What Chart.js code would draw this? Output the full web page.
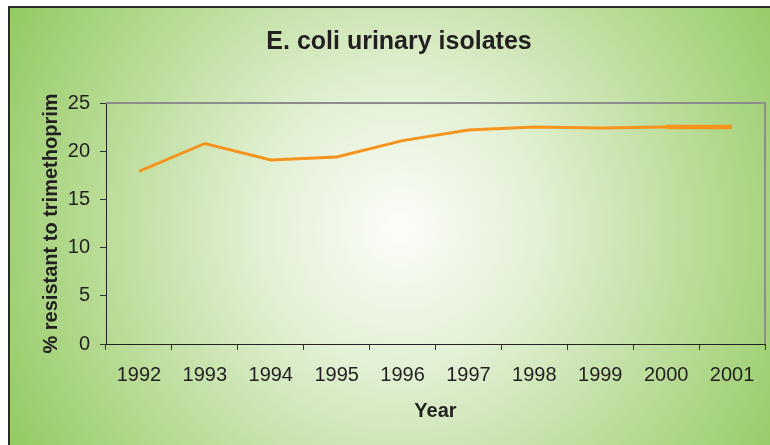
<!DOCTYPE html>
<html lang="en">
<head>
  <meta charset="UTF-8">
  <title>E. coli urinary isolates</title>
  <script src="https://cdn.jsdelivr.net/npm/chart.js"></script>
  <style>
    body { margin: 0; background: #fff; }
    canvas { display: block; }
  </style>
</head>
<body>
  <canvas id="chart" width="770" height="445"></canvas>

  <script>
    const years = ['1992', '1993', '1994', '1995', '1996', '1997', '1998', '1999', '2000', '2001'];
    const resistant = [17.9, 20.8, 19.1, 19.4, 21.1, 22.2, 22.5, 22.4, 22.5, 22.5];

    const FONT = "'Liberation Sans', Arial, sans-serif";
    const TEXT = '#231f20';

    // gradient panel behind everything, grey frame on top/right of plot
    const panel = {
      id: 'panel',
      beforeDraw(chart) {
        const c = chart.ctx;
        c.save();
        c.fillStyle = '#fff';
        c.fillRect(0, 0, chart.width, chart.height);
        const g = c.createRadialGradient(400, 228, 0, 400, 228, 470);
        g.addColorStop(0, '#fcfdf9');
        g.addColorStop(0.3, '#e2f0d4');
        g.addColorStop(0.65, '#b8db95');
        g.addColorStop(1, '#8cc85a');
        c.fillStyle = g;
        c.fillRect(9, 7, chart.width, chart.height);
        c.strokeStyle = '#2b2b2b';
        c.lineWidth = 2;
        c.strokeRect(9, 7, chart.width + 10, chart.height + 10);
        c.restore();
      },
      beforeDatasetsDraw(chart) {
        const a = chart.chartArea;
        const c = chart.ctx;
        c.save();
        c.strokeStyle = '#8c8c8c';
        c.lineWidth = 2;
        c.beginPath();
        c.moveTo(a.left, a.top);
        c.lineTo(a.right, a.top);
        c.lineTo(a.right, a.bottom);
        c.stroke();
        c.restore();
      }
    };

    const ctx = document.getElementById('chart').getContext('2d');
    new Chart(ctx, {
      type: 'line',
      data: {
        labels: years,
        datasets: [{
          data: resistant,
          borderColor: '#f7941d',
          borderWidth: 3,
          pointRadius: 0,
          tension: 0,
          segment: { borderWidth: s => s.p0DataIndex === 8 ? 4.5 : 3 }
        }]
      },
      options: {
        responsive: false,
        devicePixelRatio: 1,
        animation: false,
        layout: { padding: { left: 33, right: 5, top: 0, bottom: 0 } },
        plugins: {
          legend: { display: false },
          tooltip: { enabled: false },
          title: {
            display: true,
            text: 'E. coli urinary isolates',
            color: TEXT,
            font: { family: FONT, size: 25, weight: 'bold' },
            padding: { top: 27, bottom: 46 }
          }
        },
        scales: {
          x: {
            offset: true,
            grid: { offset: true, drawOnChartArea: false, tickLength: 6, color: '#333' },
            border: { color: '#222', width: 1 },
            ticks: { color: TEXT, font: { family: FONT, size: 20 }, padding: 13, maxRotation: 0 },
            title: {
              display: true,
              text: 'Year',
              color: TEXT,
              font: { family: FONT, size: 20, weight: 'bold' },
              padding: { top: 0, bottom: 22 }
            },
            afterFit: s => { s.height = 101; }
          },
          y: {
            min: 0,
            max: 25,
            grid: { drawOnChartArea: false, tickLength: 6, color: '#333' },
            border: { color: '#222', width: 1 },
            ticks: { stepSize: 5, color: TEXT, font: { family: FONT, size: 20 }, padding: 10 },
            title: {
              display: true,
              text: '% resistant to trimethoprim',
              color: TEXT,
              font: { family: FONT, size: 20, weight: 'bold' },
              padding: { top: 6, bottom: 0 }
            },
            afterFit: s => { s.width = 73; }
          }
        }
      },
      plugins: [panel]
    });
  </script>
</body>
</html>
